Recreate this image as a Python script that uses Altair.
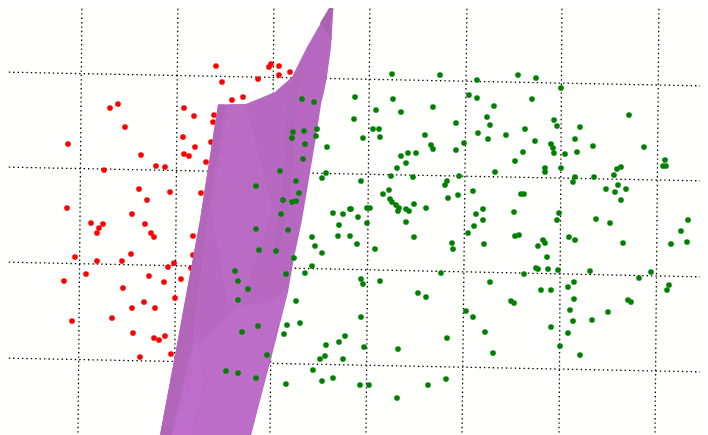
import altair as alt
import pandas as pd

red_x = [110,118,125,68,141,156,104,139,147,67,132,91,103,99,97,145,151,154,131,75,97,122,86,149,64,123,144,132,155,112,72,133,154,159,140,
         216,271,269,279,279,290,258,222,232,243,184,194,214,213,183,195,211,184,189,206,165,170,201,193,193,174,168,191,164,181,175,165,171]
red_y = [108,104,127,144,155,166,170,189,200,208,214,223,224,228,233,224,233,237,254,257,261,261,274,276,281,288,302,308,308,318,321,333,338,340,357,
         66,64,67,66,75,72,79,82,100,97,108,116,115,122,137,147,142,154,156,162,167,192,193,236,255,263,267,268,282,279,298,336,354]

green_x = [302,314,293,304,317,292,316,305,327,303,280,326,322,296,256,299,283,292,296,281,333,343,350,
           256,288,339,312,338,350,315,322,259,276,294,312,305,286,235,238,248,238,296,258,242,287,300,284,345,339,326,325,320,343,267,313,226,238,256,333,322,286,
           392,440,477,518,355,393,469,477,494,376,401,433,354,487,456,490,373,379,525,363,380,425,478,506,488,431,433,464,456,523,401,408,416,515,406,397,391,413,459,495,361,447,445,389,383,473,448,458,521,524,390,392,396,399,398,406,409,414,426,483,476,514,483,406,474,468,414,515,519,351,358,367,370,367,
           536,561,532,629,554,557,580,535,575,551,553,554,565,577,593,644,665,663,666,545,545,561,621,617,614,575,594,573,618,606,626,615,621,559,557,596,610,688,681,569,575,543,
           357,375,452,453,484,441,524,361,363,380,490,418,426,511,514,466,473,361,485,447,364,398,493,446,360,369,428,397,
           545,538,623,671,687,547,536,538,548,558,590,651,639,574,568,669,667,541,551,574,628,631,570,608,592,573,551,568,560,580]
green_y = [99,102,132,131,129,138,136,144,147,159,171,173,178,181,186,193,200,202,201,214,213,214,209,
           229,230,225,237,236,236,246,253,250,251,258,266,273,274,271,281,289,300,301,326,332,325,323,334,336,342,345,356,359,359,355,370,371,373,378,378,381,384,
           74,75,80,75,97,99,95,98,106,110,112,107,119,117,123,125,129,129,129,138,137,135,133,135,139,145,149,143,150,152,156,153,153,161,163,168,176,177,176,172,181,181,185,190,194,191,198,195,194,194,199,202,205,208,211,209,211,204,208,209,214,212,220,222,226,233,237,236,235,209,217,208,208,223,
           78,88,99,115,120,126,127,141,139,144,148,153,154,152,146,147,160,166,166,168,172,168,167,169,175,177,177,182,185,189,189,192,200,213,220,219,223,220,231,237,240,240,
           244,249,243,249,244,273,274,279,284,281,282,293,297,301,303,311,317,317,332,338,347,349,353,379,385,385,385,398,
           243,246,243,244,242,257,268,269,269,270,271,272,278,282,287,285,290,290,290,299,300,302,310,312,320,321,327,333,346,355]

# dotted reference lines: start and end readings
h_x1 = [0, 0, 0, 0]
h_x2 = [708, 708, 708, 708]
h_y1 = [72, 167, 262, 358]
h_y2 = [86, 181, 277, 372]
v_x1 = [82, 178, 274, 370, 467, 562, 659]
v_x2 = [78, 174, 270, 366, 462, 559, 655]
v_y1 = [0] * 7
v_y2 = [435] * 7

# surface patches: rows of (y, left x, right x), painted in order
surface_y = [0, 47, 77, 92, 104, 104.5, 137, 220, 258, 292, 355, 435]
surface_l = [334, 307, 292, 275, 246, 218, 213, 200, 193, 186.5, 175, 160]
surface_r = [334, 331, 327, 324, 321, 321, 316, 302, 294, 288, 272, 251]
tip_y = [0, 23, 40]
tip_l = [334, 320, 332]
tip_r = [334, 330, 332]
strip_y = [104.5, 220, 345, 435]
strip_l = [218, 200, 177, 160]
strip_r = [225, 207, 192, 171]
center_y = [104.5, 140, 210, 305]
center_l = [228, 222, 211, 228]
center_r = [245, 255, 272, 240]
band_y = [70, 92, 190, 260]
band_l = [300, 288, 283, 272]
band_r = [305, 297, 291, 277]
low_y = [290, 303, 305, 337, 345, 435]
low_l = [288, 267, 238, 207, 193, 172]
low_r = [288, 285, 284, 275, 273, 251]
glow_y = [345, 380, 435]
glow_l = [193, 192, 172]
glow_r = [197, 204, 190]

X = alt.Scale(domain=[8, 700], nice=False, zero=False)
Y = alt.Scale(domain=[435, 8], nice=False, zero=False)


def patch(ys, ls, rs, colour):
    frame = pd.DataFrame({"y": ys, "l": ls, "r": rs})
    return alt.Chart(frame).mark_area(orient="horizontal", color=colour, clip=True, opacity=1).encode(
        y=alt.Y("y:Q", scale=Y, axis=None),
        x=alt.X("l:Q", scale=X, axis=None),
        x2="r:Q",
    )


def dots(xs, ys, colour):
    frame = pd.DataFrame({"x": xs, "y": ys})
    return alt.Chart(frame).mark_circle(color=colour, size=32, opacity=1).encode(
        x=alt.X("x:Q", scale=X, axis=None),
        y=alt.Y("y:Q", scale=Y, axis=None),
    )


def rules(x1, x2, y1, y2):
    frame = pd.DataFrame({"x1": x1, "x2": x2, "y1": y1, "y2": y2})
    return alt.Chart(frame).mark_rule(color="#000000", strokeWidth=1.3, strokeDash=[1.4, 3], clip=True).encode(
        x=alt.X("x1:Q", scale=X, axis=None),
        x2="x2:Q",
        y=alt.Y("y1:Q", scale=Y, axis=None),
        y2="y2:Q",
    )


chart = alt.layer(
    rules(h_x1, h_x2, h_y1, h_y2),
    rules(v_x1, v_x2, v_y1, v_y2),
    dots(red_x, red_y, "#ff0000"),
    patch(surface_y, surface_l, surface_r, "#b769c2"),
    patch(tip_y, tip_l, tip_r, "#a962af"),
    patch(strip_y, strip_l, strip_r, "#b166ba"),
    patch(center_y, center_l, center_r, "#ba6cc5"),
    patch(band_y, band_l, band_r, "#b267bd"),
    patch(low_y, low_l, low_r, "#bc6dc8"),
    patch(glow_y, glow_l, glow_r, "#bf6ecb"),
    dots(green_x, green_y, "#008000"),
).properties(
    width=692, height=427, padding=0, background="#fffffd",
).configure_view(stroke=None)

chart.save("out.html", embed_options={"renderer": "svg", "actions": False})
